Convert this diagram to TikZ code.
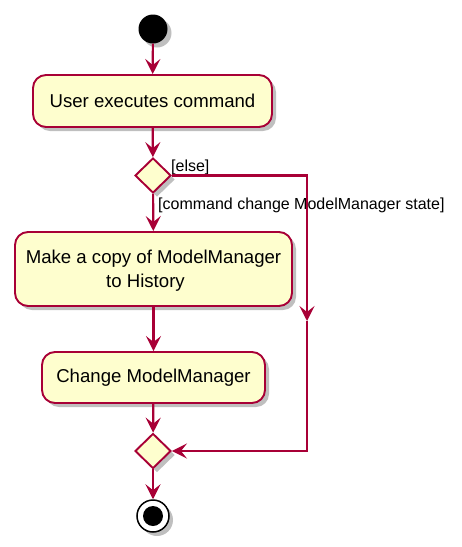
\documentclass[tikz,border=0pt]{standalone}
\usepackage{fontspec}
\setmainfont{Liberation Sans}
\usetikzlibrary{arrows.meta,shapes.geometric,shadows}
\definecolor{umlred}{HTML}{A80036}
\definecolor{umlfill}{HTML}{FEFECE}
\begin{document}
\begin{tikzpicture}[x=1pt, y=-1pt,
    shade/.style={drop shadow={shadow xshift=4pt, shadow yshift=-4pt, opacity=0.25, fill=black}},
    action/.style={draw=umlred, fill=umlfill, line width=1.9pt, rounded corners=13pt, shade,
        font=\fontsize{18.6}{24}\selectfont, align=center, inner sep=0pt},
    choice/.style={draw=umlred, fill=umlfill, line width=1.9pt, diamond, shade,
        minimum width=36pt, minimum height=35pt, inner sep=0pt},
    flow/.style={draw=umlred, line width=2.2pt, -{Stealth[length=15pt, width=15pt, inset=6pt]}},
    guard/.style={font=\fontsize{16}{19}\selectfont, anchor=west, inner sep=0pt}]
    \useasboundingbox (0,0) rectangle (462,547);
    \node[circle, fill=black, minimum size=29pt, inner sep=0pt, shade] (start) at (153,29) {};
    \node[action, minimum width=239pt, minimum height=52pt] (act1) at (152.5,101) {User executes command};
    \node[choice] (if1) at (153,175.5) {};
    \node[action, minimum width=277pt, minimum height=74pt] (act2) at (153.5,269) {};
    \node[font=\fontsize{18.6}{24}\selectfont, align=center] (act2text) at (153.5,271)
        {Make a copy of ModelManager\\to History\hspace*{16pt}};
    \node[action, minimum width=223pt, minimum height=51pt] (act3) at (153.5,377.5) {Change ModelManager};
    \node[choice] (merge) at (153,451) {};
    \node[circle, draw=black, fill=white, line width=1.5pt, minimum size=32pt, inner sep=0pt, shade] (stop) at (153,516) {};
    \fill (stop) circle (10pt);
    \foreach \a/\b in {start/act1, act1/if1, if1/act2, act2/act3, act3/merge, merge/stop} {
        \draw[flow] (\a) -- (\b);
    };
    \node[guard] (yes) at (158,205) {[command change ModelManager state]};
    \node[guard] (no) at (171,167) {[else]};
    % else branch
    \coordinate (elseTop) at (307,175.5);
    \coordinate (elseMid) at (307,321);
    \coordinate (elseBot) at (307,451);
    \draw[flow] (if1.east) -- (elseTop) -- (elseMid);
    \draw[flow] (elseMid) -- (elseBot) -- (merge.east);
\end{tikzpicture}
\end{document}
